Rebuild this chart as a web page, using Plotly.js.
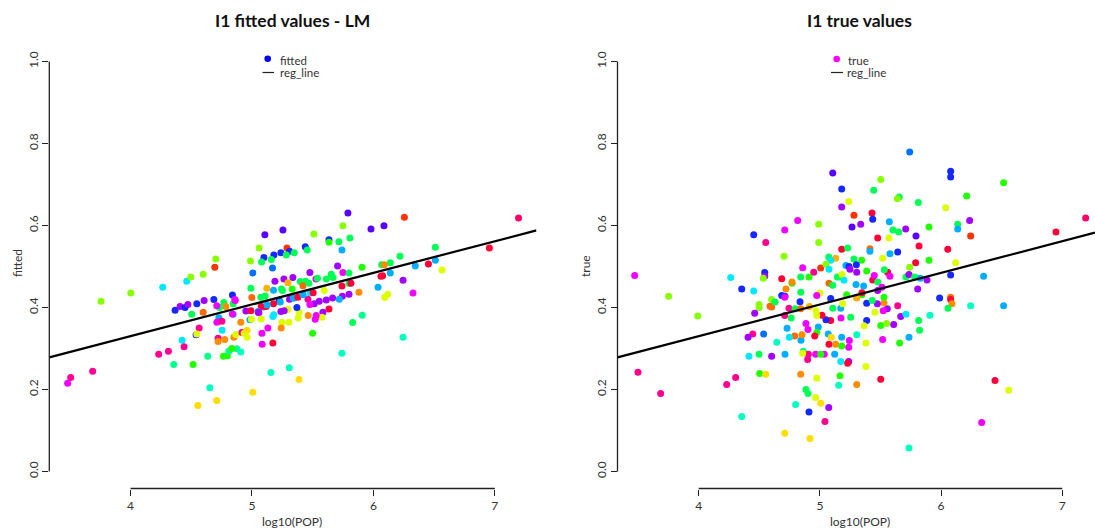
<!DOCTYPE html>
<html>
<head>
<meta charset="utf-8">
<script src="https://cdn.plot.ly/plotly-3.0.1.min.js"></script>
<style>html,body{margin:0;padding:0;background:#fff;overflow:hidden}#chart{width:1095px;height:531px}</style>
</head>
<body>
<div id="chart"></div>
<script>
// ---- data ----
var palette = {
  B:"#1428FF", V:"#5A00FF", P:"#A200FF", M:"#F000FF", K:"#FF0090", R:"#FF0038",
  X:"#FF0066", O:"#FF3300", T:"#FF6A00", N:"#FF8C00", Z:"#FFB000", Y:"#FFDD00",
  L:"#DDFF00", G:"#88FF00", E:"#22FF00", S:"#00FF55", Q:"#00FF8C", A:"#00FFC0",
  C:"#00E8FF", U:"#00AEFF", H:"#0070FF"
};

var fittedX = [3.757,4.002,4.265,4.463,4.496,4.598,4.702,4.694,4.367,4.408,4.449,4.472,4.546,4.606,4.686,4.768,4.785,4.732,4.710,4.839,4.845,4.859,4.504,4.598,4.727,4.845,4.565,4.711,4.752,4.754,4.425,4.441,4.540,4.546,4.721,4.721,4.776,4.851,4.867,4.232,4.312,4.356,4.515,4.636,4.765,4.798,4.809,4.875,3.507,3.482,3.688,4.653,4.554,4.710,
5.790,5.749,5.980,6.087,5.106,5.255,5.510,5.634,5.634,5.716,5.807,5.741,5.059,5.288,5.439,5.309,5.238,5.180,5.098,5.282,5.348,5.455,4.988,5.079,5.159,5.007,5.169,5.705,5.906,6.068,6.139,5.749,5.799,6.062,5.477,5.189,5.263,5.337,5.296,5.397,5.441,5.420,5.469,5.527,5.540,5.612,5.653,5.667,5.799,5.815,5.741,6.038,6.118,6.093,5.881,5.799,5.744,5.664,5.612,5.554,5.513,5.595,5.719,5.480,5.504,5.634,5.461,5.477,5.584,5.576,5.521,5.529,5.463,5.381,5.389,5.370,5.296,5.265,5.238,5.309,5.340,5.348,5.378,5.422,5.227,5.225,5.233,5.177,5.177,5.243,5.251,5.331,5.122,4.991,4.950,4.991,5.095,5.117,5.076,5.125,5.049,5.057,4.839,4.983,4.996,5.076,5.172,5.180,5.246,5.304,5.241,5.131,4.908,5.054,4.917,4.936,4.960,4.960,5.082,5.084,5.172,4.834,4.908,5.499,5.829,5.908,5.741,5.307,5.156,5.387,5.007,4.999,5.073,5.109,4.862,
6.255,7.195,6.955,6.510,6.219,6.090,6.453,6.510,6.345,6.565,6.139,6.076,6.244,6.326,6.244];
var fittedY = [0.415,0.435,0.449,0.464,0.474,0.481,0.518,0.498,0.393,0.402,0.400,0.407,0.409,0.417,0.419,0.412,0.402,0.400,0.404,0.430,0.409,0.419,0.383,0.388,0.375,0.383,0.350,0.364,0.366,0.344,0.320,0.304,0.333,0.335,0.325,0.317,0.322,0.327,0.334,0.286,0.293,0.261,0.261,0.281,0.281,0.282,0.293,0.299,0.229,0.215,0.244,0.204,0.161,0.173,
0.630,0.599,0.591,0.599,0.577,0.589,0.579,0.565,0.559,0.560,0.569,0.540,0.545,0.545,0.548,0.537,0.533,0.528,0.522,0.528,0.533,0.540,0.513,0.511,0.517,0.484,0.496,0.501,0.498,0.504,0.509,0.485,0.484,0.476,0.485,0.464,0.469,0.473,0.460,0.463,0.464,0.453,0.459,0.469,0.471,0.469,0.481,0.473,0.458,0.459,0.452,0.449,0.432,0.424,0.437,0.432,0.427,0.423,0.418,0.415,0.409,0.441,0.420,0.435,0.436,0.396,0.420,0.407,0.388,0.376,0.371,0.380,0.380,0.374,0.388,0.400,0.395,0.392,0.390,0.420,0.423,0.423,0.425,0.431,0.414,0.417,0.413,0.409,0.442,0.445,0.441,0.445,0.447,0.447,0.391,0.392,0.401,0.402,0.402,0.406,0.390,0.387,0.384,0.370,0.371,0.372,0.378,0.382,0.364,0.364,0.350,0.350,0.364,0.388,0.339,0.337,0.344,0.327,0.337,0.310,0.313,0.300,0.291,0.337,0.363,0.381,0.288,0.253,0.241,0.224,0.193,0.424,0.425,0.428,0.417,
0.620,0.618,0.545,0.547,0.525,0.504,0.506,0.515,0.501,0.491,0.484,0.477,0.466,0.435,0.327];
var fittedC = ("GGCCGGGOBPBPBPBSNSMBSMSTUUKMKCCKBLKNNNLKKQEQEEQQKMKAYY" +
  "VGVVVVGBESSUGOBBBBBSSSGSSHHPESSMSRPPPPZSSTSMSSSSSRRULLNPPPPPPLUCRRKMPLMMNLLBLPPPUURUUBURUSSEZSPRURRUUMMULLCCLLNMNPKLYLMMREAESQAAAYYTSSM" +
  "OXRSSNRUULURPMA").split("");

var trueX = [3.472,3.752,3.992,3.499,3.686,4.264,4.355,4.454,4.553,4.545,4.545,4.533,4.454,4.498,4.498,4.462,4.446,4.407,4.536,4.415,4.498,4.503,4.553,4.231,4.305,4.355,4.588,
5.106,5.502,5.444,5.180,5.238,5.180,5.430,5.281,5.436,5.337,5.265,5.573,4.817,4.990,4.710,4.990,5.477,5.570,4.704,5.180,5.229,5.413,5.413,5.578,5.518,5.073,5.130,5.089,5.281,5.345,5.215,5.240,5.301,5.248,5.304,5.386,5.559,4.858,4.949,5.007,5.050,5.075,5.144,5.166,5.182,5.199,5.075,5.106,4.842,4.910,4.685,4.770,4.770,4.720,5.298,5.361,5.436,5.449,5.477,5.532,5.556,5.523,5.347,5.347,5.512,5.477,5.529,5.386,5.474,5.432,5.455,5.386,5.502,5.551,5.364,5.518,5.380,5.304,5.180,5.243,5.238,5.174,5.254,5.172,5.106,5.089,5.089,5.050,5.017,4.974,4.968,4.987,4.974,4.885,4.902,4.957,5.069,5.094,5.075,5.130,5.122,5.172,5.238,5.229,5.166,5.155,5.304,5.502,5.380,5.180,4.844,4.792,4.852,4.748,4.729,4.644,4.602,4.712,4.863,4.905,4.899,4.965,5.036,5.007,4.858,4.842,4.974,4.885,4.902,4.800,4.965,5.007,5.073,4.910,5.042,4.710,4.918,4.710,4.745,4.795,4.842,4.913,4.763,4.602,4.602,4.630,4.685,4.712,4.710,4.836,4.842,5.001,4.974,5.221,5.188,5.304,5.304,
5.741,6.079,6.079,6.516,5.655,5.639,5.812,6.038,6.211,6.236,6.137,6.137,6.244,7.193,6.948,5.603,5.650,5.708,5.900,5.793,5.818,6.055,5.642,5.790,5.900,6.120,5.741,5.578,5.710,5.735,5.782,5.828,5.884,6.079,6.351,5.807,5.988,6.079,6.079,6.090,6.057,6.244,6.516,5.642,5.529,5.667,5.710,5.815,5.908,5.823,5.609,5.735,5.658,6.445,6.558,6.335,5.735];
var trueY = [0.478,0.427,0.379,0.242,0.190,0.473,0.445,0.577,0.558,0.485,0.476,0.471,0.440,0.407,0.399,0.386,0.335,0.327,0.335,0.281,0.286,0.239,0.237,0.212,0.229,0.134,0.403,
0.728,0.712,0.686,0.689,0.658,0.645,0.630,0.625,0.615,0.603,0.596,0.609,0.612,0.603,0.589,0.558,0.569,0.569,0.525,0.542,0.545,0.543,0.537,0.531,0.520,0.523,0.520,0.515,0.518,0.515,0.502,0.500,0.504,0.493,0.486,0.489,0.486,0.497,0.486,0.496,0.505,0.493,0.474,0.474,0.480,0.466,0.459,0.454,0.474,0.474,0.470,0.459,0.462,0.445,0.456,0.452,0.467,0.478,0.462,0.492,0.397,0.392,0.431,0.436,0.449,0.441,0.411,0.410,0.409,0.417,0.388,0.368,0.356,0.361,0.355,0.322,0.313,0.333,0.327,0.319,0.303,0.374,0.376,0.398,0.398,0.422,0.368,0.370,0.381,0.380,0.392,0.352,0.339,0.361,0.346,0.330,0.335,0.327,0.310,0.310,0.286,0.268,0.268,0.264,0.233,0.210,0.212,0.225,0.256,0.306,0.320,0.330,0.333,0.327,0.349,0.315,0.281,0.286,0.293,0.286,0.273,0.286,0.286,0.286,0.288,0.237,0.227,0.200,0.190,0.163,0.180,0.166,0.156,0.145,0.122,0.093,0.080,0.380,0.398,0.397,0.397,0.402,0.374,0.401,0.419,0.413,0.429,0.427,0.425,0.414,0.437,0.435,0.429,0.431,0.409,0.425,0.423,
0.779,0.732,0.718,0.704,0.669,0.665,0.656,0.643,0.672,0.612,0.603,0.591,0.574,0.618,0.584,0.589,0.584,0.591,0.596,0.574,0.550,0.542,0.535,0.509,0.515,0.509,0.498,0.476,0.474,0.480,0.474,0.471,0.467,0.479,0.476,0.445,0.423,0.425,0.419,0.409,0.398,0.404,0.404,0.404,0.425,0.378,0.383,0.368,0.381,0.344,0.358,0.327,0.313,0.222,0.198,0.119,0.057];
var trueC = ("MGGKKCBBKBPGCGGPKPHCSEYKKAT" +
  "VGSBLPROBPVUMGMGRLGRSTUULSZCSEUBBPPERMKOGCSSLCTSSERENNUURMSSPMERMPNBPSLBEGLMLAUMMMSUSBRBRLLUEMMRUYRNUCPREANRLEUTNCUAPUQKKMMELNLSSALYPBKYYKKSTZSTGSBBMBSLMELUZ" +
  "HBBESGSLEPSUOXRSSPEVRRBRELGMSPSUPBUPBTRNSAUKEPCSASPUERLMA").split("");

var regIntercept = [0.021];
var regSlope = [0.0772];
var xTicks = [4, 5, 6, 7];
var yTicks = [0, 0.2, 0.4, 0.6, 0.8, 1.0];
var yTickText = ["0.0", "0.2", "0.4", "0.6", "0.8", "1.0"];

// ---- layout geometry (pixels of the 1095x531 page) ----
var W = 1095, H = 531;
var FONT = "Lato, 'DejaVu Sans', sans-serif";
function px(v){ return v / W; }
function py(v){ return (H - v) / H; }
var left = {x0: 49.3, x1: 536.5, range: [3.331, 7.343]};
var right = {x0: 617.5, x1: 1095, range: [3.330, 7.270]};
var yTop = 45, yBot = 488.5, yRange = [-0.0417, 1.04];

function regLine(range){
  var xs = [range[0], range[1]];
  return {x: xs, y: xs.map(function(v){ return regIntercept[0] + regSlope[0]*v; })};
}
var l1 = regLine(left.range), l2 = regLine(right.range);

var traces = [
  {type:"scatter", mode:"markers", x: fittedX, y: fittedY, xaxis:"x", yaxis:"y",
   marker:{size:7, color: fittedC.map(function(c){return palette[c];}), line:{width:0}}, hoverinfo:"x+y"},
  {type:"scatter", mode:"lines", x: l1.x, y: l1.y, xaxis:"x", yaxis:"y", line:{color:"#000", width:2.2}},
  {type:"scatter", mode:"markers", x: trueX, y: trueY, xaxis:"x2", yaxis:"y2",
   marker:{size:7, color: trueC.map(function(c){return palette[c];}), line:{width:0}}, hoverinfo:"x+y"},
  {type:"scatter", mode:"lines", x: l2.x, y: l2.y, xaxis:"x2", yaxis:"y2", line:{color:"#000", width:2.2}}
];

function xAxis(p, anchor){
  return {domain:[px(p.x0), px(p.x1)], range:p.range, anchor:anchor, tickvals:xTicks,
    ticks:"outside", ticklen:6, tickwidth:1, tickcolor:"#222", showgrid:false, zeroline:false,
    showline:false, tickfont:{family:FONT, size:12, color:"#333"}, fixedrange:true};
}
function yAxis(anchor){
  return {domain:[py(yBot), py(yTop)], range:yRange, anchor:anchor, tickvals:yTicks, ticktext:yTickText,
    tickangle:-90, ticks:"outside", ticklen:6, tickwidth:1, tickcolor:"#222", showgrid:false,
    zeroline:false, showline:false, tickfont:{family:FONT, size:12, color:"#333"}, fixedrange:true};
}

var shapes = [];
[[left,"x","y"],[right,"x2","y2"]].forEach(function(a){
  shapes.push({type:"line", xref:"paper", yref:a[2], x0:px(a[0].x0), x1:px(a[0].x0), y0:0, y1:1, line:{color:"#222", width:1.3}});
  shapes.push({type:"line", xref:a[1], yref:"paper", x0:4, x1:7, y0:py(yBot), y1:py(yBot), line:{color:"#222", width:1.3}});
});
// legend marks
shapes.push({type:"circle", xref:"paper", yref:"paper", xsizemode:"pixel", ysizemode:"pixel",
  xanchor:px(267.7), yanchor:py(58.7), x0:-3.3, x1:3.3, y0:-3.3, y1:3.3, fillcolor:"#0000FF", line:{width:0}});
shapes.push({type:"line", xref:"paper", yref:"paper", x0:px(262.5), x1:px(274), y0:py(72.5), y1:py(72.5), line:{color:"#222", width:1.2}});
shapes.push({type:"circle", xref:"paper", yref:"paper", xsizemode:"pixel", ysizemode:"pixel",
  xanchor:px(836.7), yanchor:py(59), x0:-3.3, x1:3.3, y0:-3.3, y1:3.3, fillcolor:"#FF00FF", line:{width:0}});
shapes.push({type:"line", xref:"paper", yref:"paper", x0:px(831), x1:px(843), y0:py(72.5), y1:py(72.5), line:{color:"#222", width:1.2}});

function ann(text, x, y, opts){
  var a = {text:text, xref:"paper", yref:"paper", x:px(x), y:py(y), showarrow:false,
    xanchor:"center", yanchor:"middle", font:{family:FONT, size:12, color:"#333"}};
  for (var k in opts) a[k] = opts[k];
  return a;
}
var annotations = [
  ann("<b>I1 fitted values - LM</b>", 292.5, 20.5, {font:{family:FONT, size:17.5, color:"#111"}}),
  ann("<b>I1 true values</b>", 859.5, 20.5, {font:{family:FONT, size:17.5, color:"#111"}}),
  ann("log10(POP)", 291.5, 521, {}),
  ann("log10(POP)", 859.5, 521, {}),
  ann("fitted", 17, 263, {textangle:-90}),
  ann("true", 585, 266, {textangle:-90}),
  ann("fitted", 278, 61, {xanchor:"left", font:{family:FONT, size:11.5, color:"#333"}}),
  ann("reg_line", 277.5, 72.5, {xanchor:"left", font:{family:FONT, size:11.5, color:"#333"}}),
  ann("true", 845.5, 61, {xanchor:"left", font:{family:FONT, size:11.5, color:"#333"}}),
  ann("reg_line", 845, 72.5, {xanchor:"left", font:{family:FONT, size:11.5, color:"#333"}})
];

var layout = {
  width: W, height: H, margin:{l:0, r:0, t:0, b:0, pad:0},
  paper_bgcolor:"#fff", plot_bgcolor:"rgba(0,0,0,0)", showlegend:false,
  xaxis: xAxis(left, "y"), yaxis: yAxis("x"),
  xaxis2: xAxis(right, "y2"), yaxis2: yAxis("x2"),
  shapes: shapes, annotations: annotations,
  font:{family:FONT}
};

Plotly.newPlot("chart", traces, layout, {staticPlot:true, displayModeBar:false});
</script>
</body>
</html>
